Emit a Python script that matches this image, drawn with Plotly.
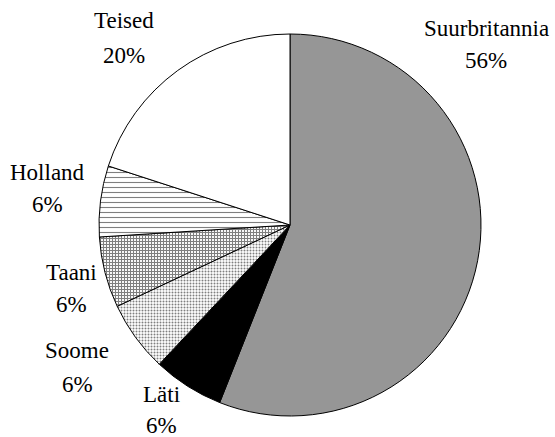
import plotly.graph_objects as go

# Data
countries = ["Suurbritannia", "Läti", "Soome", "Taani", "Holland", "Teised"]
shares = [56, 6, 6, 6, 6, 20]

# Styles
fill_colors = ["#969696", "#000000", "#ffffff", "#ffffff", "#ffffff", "#ffffff"]
pattern_shapes = ["", "", ".", "+", "-", ""]
pattern_sizes = [3, 3, 3, 3, 5, 3]
pattern_solidity = [0.3, 0.3, 0.35, 0.6, 0.22, 0.3]

# Label layout in pixels: centre x, baseline of name line, baseline of percent line
W, H = 555, 437
label_x = [486, 161, 77, 71, 47, 124]
name_base = [36, 402, 358, 280, 180, 29]
pct_base = [68, 433, 392, 312, 213, 63]
FONT_SIZE = 23
BASE_TO_MID = 8  # baseline to visual middle offset

cx, cy, r = 290, 225, 191

fig = go.Figure(go.Pie(
    labels=countries,
    values=shares,
    sort=False,
    direction="clockwise",
    rotation=0,
    textinfo="none",
    hoverinfo="label+percent",
    marker=dict(
        colors=fill_colors,
        line=dict(color="#000000", width=1),
        pattern=dict(
            shape=pattern_shapes,
            fgcolor="#000000",
            bgcolor=fill_colors,
            size=pattern_sizes,
            solidity=pattern_solidity,
            fillmode="overlay",
        ),
    ),
    domain=dict(x=[(cx - r) / W, (cx + r) / W], y=[(H - cy - r) / H, (H - cy + r) / H]),
    showlegend=False,
))

total = sum(shares)
font = dict(family="Times New Roman", size=FONT_SIZE, color="#000000")
for name, v, px, nb, pb in zip(countries, shares, label_x, name_base, pct_base):
    for txt, base in ((name, nb), (f"{round(v / total * 100)}%", pb)):
        fig.add_annotation(
            x=px / W, y=1 - (base - BASE_TO_MID) / H, xref="paper", yref="paper",
            text=txt, showarrow=False, align="center",
            xanchor="center", yanchor="middle", font=font,
        )

fig.update_layout(
    width=W, height=H,
    margin=dict(l=0, r=0, t=0, b=0),
    font=dict(family="Times New Roman", color="#000000"),
    paper_bgcolor="#ffffff",
    plot_bgcolor="#ffffff",
)

fig.write_html(
    "out.html",
    config={"displayModeBar": False},
    post_script="document.body.style.margin='0px';document.body.style.overflow='hidden';",
)
